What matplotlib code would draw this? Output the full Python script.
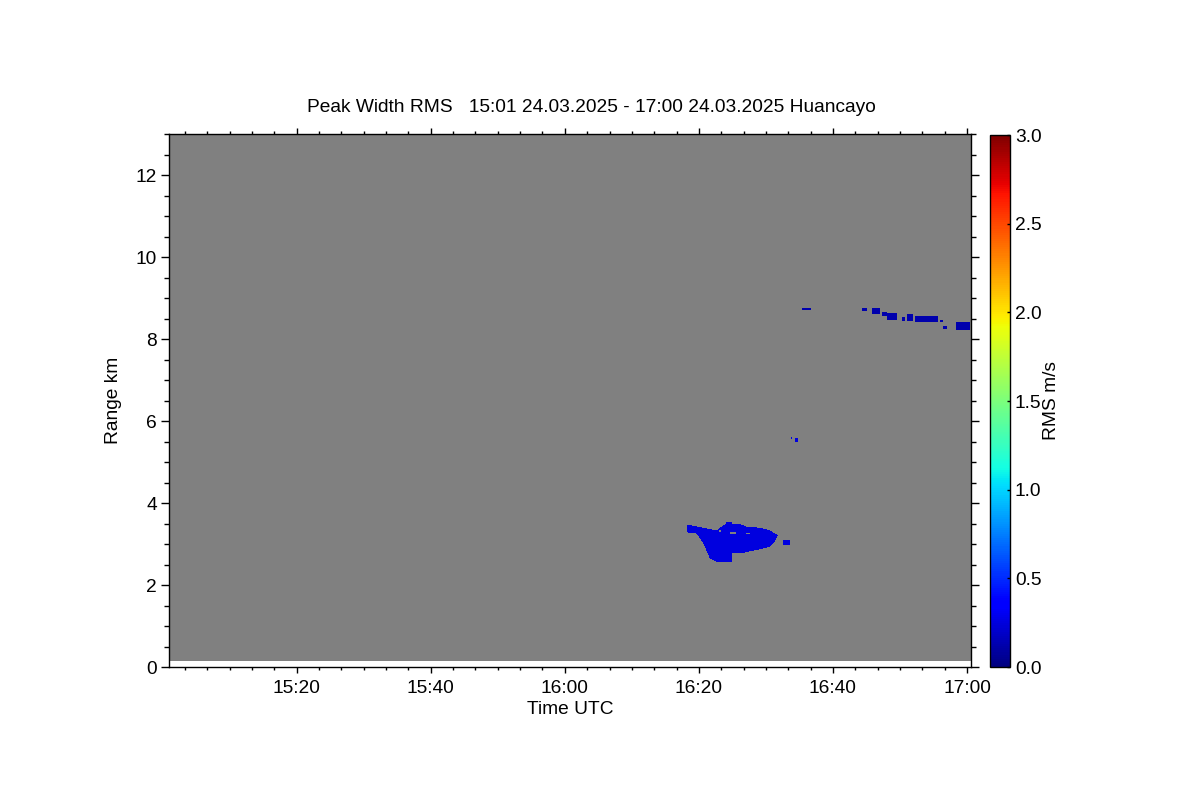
import numpy as np
import matplotlib
matplotlib.use('Agg')
from matplotlib import pyplot as plt
from matplotlib.path import Path
from matplotlib.ticker import MultipleLocator, FuncFormatter

plt.rcParams['font.family'] = ['Liberation Sans', 'DejaVu Sans']
plt.rcParams['font.size'] = 13.8

# time axis in minutes after 15:00 UTC, range in km
t_start, t_end = 0.94, 120.6
r_start, r_end = 0.15, 13.0
dt, dr = 0.15, 0.025

# main echo near 3 km (outline)
blob_t = [78.16, 80.15, 82.64, 83.39, 84.13, 86.12, 87.36, 89.10, 90.60, 91.84, 91.34,
          90.60, 88.61, 86.37, 84.88, 84.88, 82.88, 81.64, 80.64, 79.66, 78.16]
blob_r = [3.49, 3.42, 3.34, 3.44, 3.52, 3.50, 3.42, 3.41, 3.34, 3.22, 3.06,
          2.93, 2.85, 2.77, 2.77, 2.54, 2.54, 2.63, 3.02, 3.26, 3.29]
blob_val = 0.25

# gaps inside the main echo: t0, t1, r0, r1
hole_t0 = [84.7, 87.1, 83.0]
hole_t1 = [85.6, 87.6, 83.3]
hole_r0 = [3.24, 3.24, 3.30]
hole_r1 = [3.30, 3.28, 3.36]

# small echoes (small blob, dots at 5.5 km, layer at 8.5 km)
echo_t0 = [92.6, 93.8, 94.4, 95.5, 104.3, 105.8, 107.3, 108.0, 110.3, 111.0, 112.3, 116.0, 116.5, 118.4]
echo_t1 = [93.6, 94.0, 94.8, 96.8, 105.1, 107.0, 108.0, 109.6, 110.8, 112.0, 115.7, 116.5, 117.0, 120.5]
echo_r0 = [2.98, 5.54, 5.49, 8.69, 8.67, 8.61, 8.54, 8.48, 8.45, 8.46, 8.42, 8.42, 8.24, 8.22]
echo_r1 = [3.10, 5.59, 5.57, 8.76, 8.75, 8.75, 8.64, 8.63, 8.53, 8.59, 8.56, 8.48, 8.32, 8.42]
echo_val = [0.25, 0.25, 0.25, 0.12, 0.12, 0.12, 0.12, 0.12, 0.12, 0.12, 0.12, 0.12, 0.12, 0.12]

tick_vals = [0.0, 0.5, 1.0, 1.5, 2.0, 2.5, 3.0]

# build the field
t_edges = np.arange(t_start, t_end + dt, dt)
r_edges = np.arange(r_start, r_end + dr, dr)
tc = (t_edges[:-1] + t_edges[1:]) / 2
rc = (r_edges[:-1] + r_edges[1:]) / 2
T, R = np.meshgrid(tc, rc)
field = np.full(T.shape, np.nan)

pts = np.column_stack([T.ravel(), R.ravel()])
inside = Path(np.column_stack([blob_t, blob_r])).contains_points(pts).reshape(T.shape)
field[inside] = blob_val
for a, b, c, d in zip(hole_t0, hole_t1, hole_r0, hole_r1):
    field[(T >= a) & (T <= b) & (R >= c) & (R <= d)] = np.nan
for a, b, c, d, v in zip(echo_t0, echo_t1, echo_r0, echo_r1, echo_val):
    field[(T >= a) & (T <= b) & (R >= c) & (R <= d)] = v

cmap = plt.get_cmap('jet').with_extremes(bad='#808080')

fig = plt.figure(figsize=(12, 8), dpi=100)
ax = fig.add_axes([169 / 1200, 1 - 667 / 800, 802 / 1200, 533 / 800])
im = ax.pcolormesh(t_edges, r_edges, np.ma.masked_invalid(field), cmap=cmap,
                   vmin=0, vmax=3, shading='flat', rasterized=True)
ax.set_xlim(t_start, t_end)
ax.set_ylim(0, 13)

ax.xaxis.set_major_locator(MultipleLocator(20))
ax.xaxis.set_minor_locator(MultipleLocator(20 / 6))
ax.xaxis.set_major_formatter(FuncFormatter(lambda m, p: '%d:%02d' % (15 + int(round(m)) // 60, int(round(m)) % 60)))
ax.yaxis.set_major_locator(MultipleLocator(2))
ax.yaxis.set_minor_locator(MultipleLocator(0.5))
ax.tick_params(which='both', direction='out', top=True, right=True, width=1, labelsize=13.8, colors='black')
ax.tick_params(axis='x', which='major', length=4, pad=5.5)
ax.tick_params(axis='x', which='minor', length=2)
ax.tick_params(axis='y', which='major', length=5.8, pad=3)
ax.tick_params(axis='y', which='minor', length=3.6)
for s in ax.spines.values():
    s.set_linewidth(1)

# colorbar
cax = fig.add_axes([990 / 1200, 1 - 667 / 800, 20 / 1200, 532 / 800])
cb = fig.colorbar(im, cax=cax, ticks=tick_vals, format='%.1f')
cb.outline.set_linewidth(1)
cax.tick_params(direction='in', length=2.5, width=1, labelsize=13.8, pad=3.6)

# texts
fig.text(591 / 1200, 1 - 108 / 800, 'Peak Width RMS   15:01 24.03.2025 - 17:00 24.03.2025 Huancayo',
         ha='center', va='center')
fig.text(570 / 1200, 1 - 709 / 800, 'Time UTC', ha='center', va='center')
fig.text(113 / 1200, 1 - 400 / 800, 'Range km', ha='center', va='center', rotation=90)
fig.text(1052 / 1200, 1 - 401 / 800, 'RMS m/s', ha='center', va='center', rotation=90)

fig.savefig('out.png', dpi=100)
